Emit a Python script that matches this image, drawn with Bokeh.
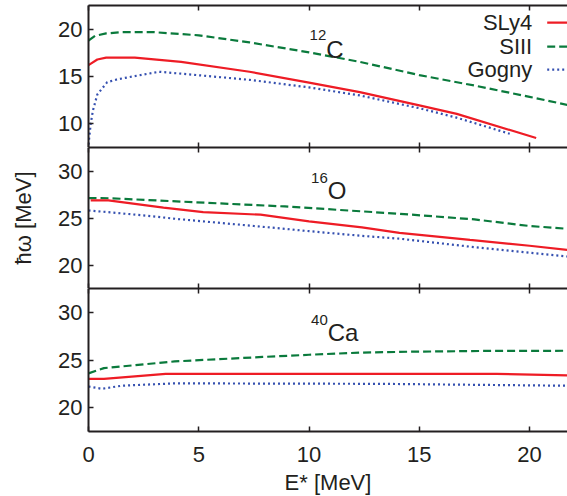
from bokeh.plotting import figure
from bokeh.models import Range1d, LinearAxis, FixedTicker, Label, Arrow
from bokeh.layouts import column
from bokeh.embed import file_html
from bokeh.resources import INLINE

# ---------------- data ----------------
x_ticks = [0, 5, 10, 15, 20]
y_ticks_C = [10, 15, 20]
y_ticks_O = [20, 25, 30]
y_ticks_Ca = [20, 25, 30]

# 12C
C_sly4_E = [0, 0.4, 0.8, 2.1, 4.2, 7.3, 10, 12.3, 15, 16.7, 20.3]
C_sly4_w = [16.2, 16.8, 17.0, 17.0, 16.55, 15.5, 14.35, 13.35, 11.95, 11.05, 8.5]
C_siii_E = [0, 0.3, 0.8, 1.5, 3.0, 5.0, 7.3, 10, 12.3, 15, 17.6, 20, 21.72]
C_siii_w = [18.8, 19.3, 19.55, 19.68, 19.68, 19.35, 18.6, 17.55, 16.55, 15.15, 14.0, 12.85, 12.0]
C_gogny_E = [0, 0.1, 0.2, 0.4, 0.85, 1.3, 2.0, 3.2, 4.2, 7.3, 10, 12.3, 15, 16.7, 19.1]
C_gogny_w = [7.8, 10.0, 11.4, 13.1, 14.4, 14.7, 15.0, 15.5, 15.3, 14.65, 13.85, 13.0, 11.65, 10.65, 8.95]

# 16O
O_sly4_E = [0.1, 0.9, 3.4, 5.2, 7.8, 10, 12.4, 14.1, 17.3, 20, 21.72]
O_sly4_w = [26.87, 26.87, 26.1, 25.63, 25.35, 24.65, 24.0, 23.42, 22.67, 22.05, 21.6]
O_siii_E = [0, 1, 3.7, 8.9, 14.1, 17.5, 20, 21.72]
O_siii_w = [27.12, 27.1, 26.8, 26.23, 25.45, 24.85, 24.15, 23.85]
O_gogny_E = [0, 1, 2.6, 4.0, 7.5, 8.9, 10, 12.4, 14.1, 17.3, 20, 21.72]
O_gogny_w = [25.8, 25.6, 25.25, 24.9, 24.15, 23.85, 23.6, 23.1, 22.8, 21.95, 21.3, 20.9]

# 40Ca
Ca_sly4_E = [0, 0.7, 3.5, 18.5, 21.72]
Ca_sly4_w = [23.03, 23.03, 23.55, 23.55, 23.38]
Ca_siii_E = [0, 0.7, 3.9, 7.9, 10, 12.4, 14.6, 18, 21.72]
Ca_siii_w = [23.6, 24.15, 24.85, 25.32, 25.55, 25.78, 25.87, 25.95, 25.97]
Ca_gogny_E = [0, 0.6, 1.5, 3.9, 13.2, 21.72]
Ca_gogny_w = [22.22, 21.98, 22.3, 22.55, 22.5, 22.3]

series_names = ["SLy4", "SIII", "Gogny"]

# ---------------- styling ----------------
FONT = "Liberation Sans"
TXT = "#231f20"
RED = "#ee1c25"
GREEN = "#0a7a3c"
BLUE = "#3550b0"
STYLES = {
    "SLy4": dict(line_color=RED, line_width=2.2, line_dash="solid"),
    "SIII": dict(line_color=GREEN, line_width=2.2, line_dash="8 4"),
    "Gogny": dict(line_color=BLUE, line_width=2.2, line_dash="2 3"),
}
X_END = 21.72


def style_axis(ax, ticks, labels):
    ax.ticker = FixedTicker(ticks=ticks, minor_ticks=[])
    ax.axis_line_color = TXT
    ax.axis_line_width = 2
    ax.major_tick_in = 5
    ax.major_tick_out = 0
    ax.major_tick_line_color = TXT
    ax.major_tick_line_width = 1.5
    ax.minor_tick_line_color = None
    ax.major_label_text_font = FONT
    if labels:
        ax.major_label_text_color = TXT
        ax.major_label_text_font_size = "22px"
    else:
        ax.major_label_text_color = None
        ax.major_label_standoff = 0


def make_panel(ylim, yticks, frame_h, top_border, bottom_labels):
    p = figure(frame_width=479, frame_height=frame_h,
               x_range=Range1d(0, X_END), y_range=Range1d(*ylim),
               output_backend="svg", toolbar_location=None,
               min_border_left=88, min_border_right=0,
               min_border_top=top_border, min_border_bottom=0)
    p.outline_line_color = None
    p.grid.visible = False
    p.background_fill_color = "white"
    p.border_fill_color = "white"
    left = p.yaxis[0]
    bottom = p.xaxis[0]
    style_axis(left, yticks, True)
    left.major_label_standoff = 6
    style_axis(bottom, x_ticks, bottom_labels)
    top = LinearAxis()
    style_axis(top, x_ticks, False)
    p.add_layout(top, "above")
    return p, left, bottom


def add_title(p, sup, main, x, y_sup, y_main):
    p.add_layout(Label(x=x, y=y_sup, text=sup, text_align="right",
                       text_baseline="alphabetic", text_font=FONT,
                       text_font_size="15px", text_color=TXT))
    p.add_layout(Label(x=x, y=y_main, text=main, text_align="left",
                       text_baseline="alphabetic", text_font=FONT,
                       text_font_size="24px", text_color=TXT))


# panel 1: 12C
p1, _, _ = make_panel((7.5, 22.5), y_ticks_C, 142, 5, False)
p1.line(C_siii_E, C_siii_w, **STYLES["SIII"])
p1.line(C_gogny_E, C_gogny_w, **STYLES["Gogny"])
p1.line(C_sly4_E, C_sly4_w, **STYLES["SLy4"])
add_title(p1, "12", "C", 10.78, 19.39, 17.87)

# legend (gnuplot style: label then sample)
for name, ly in zip(series_names, [20.70, 18.16, 15.73]):
    p1.add_layout(Label(x=20.12, y=ly, text=name, text_align="right",
                        text_baseline="middle", text_font=FONT,
                        text_font_size="22px", text_color=TXT))
    st = STYLES[name]
    p1.add_layout(Arrow(end=None, x_start=20.8, y_start=ly, x_end=X_END, y_end=ly,
                        line_color=st["line_color"], line_width=st["line_width"],
                        line_dash=st["line_dash"]))

# panel 2: 16O
p2, ya2, _ = make_panel((17.5, 32.5), y_ticks_O, 141, 0, False)
p2.line(O_siii_E, O_siii_w, **STYLES["SIII"])
p2.line(O_gogny_E, O_gogny_w, **STYLES["Gogny"])
p2.line(O_sly4_E, O_sly4_w, **STYLES["SLy4"])
add_title(p2, "16", "O", 10.85, 29.25, 27.94)
ya2.axis_label = "ħω [MeV]"
ya2.axis_label_text_font = FONT
ya2.axis_label_text_font_size = "22px"
ya2.axis_label_text_font_style = "normal"
ya2.axis_label_text_color = TXT
ya2.axis_label_standoff = 19

# panel 3: 40Ca
p3, _, xa = make_panel((17.5, 32.5), y_ticks_Ca, 143, 0, True)
p3.line(Ca_siii_E, Ca_siii_w, **STYLES["SIII"])
p3.line(Ca_gogny_E, Ca_gogny_w, **STYLES["Gogny"])
p3.line(Ca_sly4_E, Ca_sly4_w, **STYLES["SLy4"])
add_title(p3, "40", "Ca", 10.85, 29.19, 27.85)
xa.major_label_standoff = 15
xa.axis_label = "E* [MeV]"
xa.axis_label_text_font = FONT
xa.axis_label_text_font_size = "22px"
xa.axis_label_text_font_style = "normal"
xa.axis_label_text_color = TXT
xa.axis_label_standoff = 5

layout = column(p1, p2, p3, spacing=0)
open("out.html", "w").write(file_html(layout, INLINE))
